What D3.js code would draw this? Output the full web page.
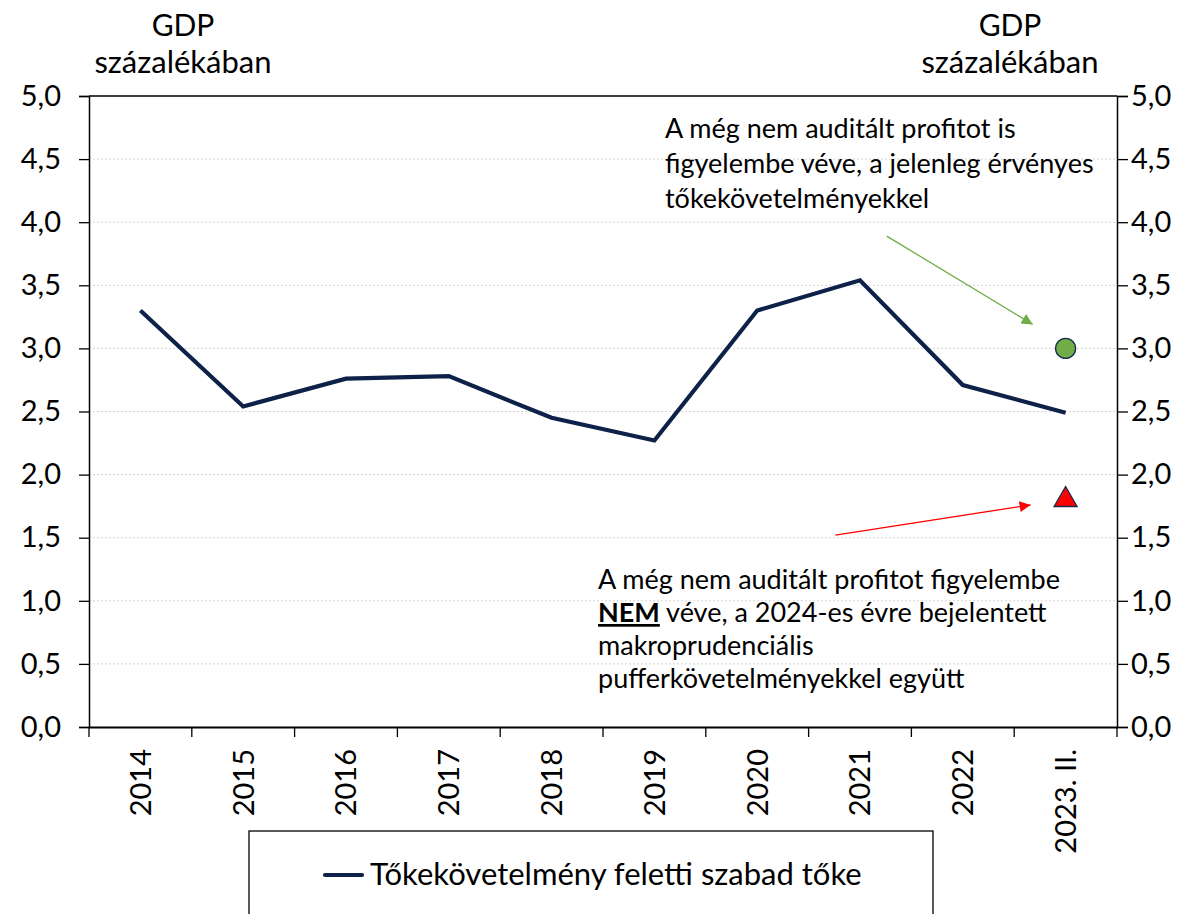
<!DOCTYPE html>
<html>
<head>
<meta charset="utf-8">
<script src="https://cdn.jsdelivr.net/npm/d3@7"></script>
<style>
  body { margin: 0; background: #fff; }
  svg, svg text { font-family: Lato, "Open Sans", sans-serif; }
</style>
</head>
<body>
<div id="chart"></div>
<script>
// Data
const categories = ['2014', '2015', '2016', '2017', '2018', '2019', '2020', '2021', '2022', '2023. II.'];
const freeCapital = [3.30, 2.54, 2.76, 2.78, 2.45, 2.27, 3.30, 3.54, 2.71, 2.49];
const yTicks = [0, 0.5, 1, 1.5, 2, 2.5, 3, 3.5, 4, 4.5, 5];
const withProfit = { cat: '2023. II.', value: 3.0 };
const withoutProfit = { cat: '2023. II.', value: 1.8 };
const seriesName = 'Tőkekövetelmény feletti szabad tőke';
const axisTitle = ['GDP', 'százalékában'];
const noteTop = ['A még nem auditált profitot is', 'figyelembe véve, a jelenleg érvényes', 'tőkekövetelményekkel'];
const noteBottom = ['A még nem auditált profitot figyelembe', 'NEM| véve, a 2024-es évre bejelentett', 'makroprudenciális', 'pufferkövetelményekkel együtt'];

const W = 1195, H = 914;
const margin = {top: 96, right: 78, bottom: 187, left: 89};
const width = W - margin.left - margin.right;
const height = H - margin.top - margin.bottom;

const svg = d3.select('#chart').append('svg')
    .attr('width', W)
    .attr('height', H);

const g = svg.append('g')
    .attr('transform', `translate(${margin.left},${margin.top})`);

// Scales
const x = d3.scaleBand().domain(categories).range([0, width]);
const y = d3.scaleLinear().domain([0, 5]).range([height, 0]);
const cx = c => x(c) + x.bandwidth() / 2;
// position relative to a category centre, in band units
const px = (c, off) => cx(c) + off * x.bandwidth();

// Gridlines
g.append('g')
    .selectAll('line')
    .data(yTicks.filter(d => d > 0 && d < 5))
    .enter().append('line')
    .attr('x1', 0).attr('x2', width)
    .attr('y1', d => y(d)).attr('y2', d => y(d))
    .attr('stroke', '#d4d4d4')
    .attr('stroke-width', 1)
    .attr('stroke-dasharray', '2,2');

// top border
g.append('line')
    .attr('x1', 0).attr('x2', width)
    .attr('y1', y(5)).attr('y2', y(5))
    .attr('stroke', '#000').attr('stroke-width', 1.3);

const fmt = d => d3.format('.1f')(d).replace('.', ',');

// Y axes
const yLeft = g.append('g')
    .call(d3.axisLeft(y).tickValues(yTicks).tickFormat(fmt).tickSize(10).tickPadding(18));
const yRight = g.append('g')
    .attr('transform', `translate(${width},0)`)
    .call(d3.axisRight(y).tickValues(yTicks).tickFormat(fmt).tickSize(11).tickPadding(3));

[yLeft, yRight].forEach(a => {
    a.attr('font-family', null);
    a.select('.domain').attr('stroke', '#000').attr('stroke-width', 1.5);
    a.selectAll('.tick line').attr('stroke', '#000').attr('stroke-width', 1.3);
    a.selectAll('.tick text').style('font-size', '29px').attr('fill', '#000');
});

// X axis
const xAxis = g.append('g')
    .attr('transform', `translate(0,${height})`)
    .call(d3.axisBottom(x).tickSize(0).tickFormat(d => d));
xAxis.attr('font-family', null);
xAxis.select('.domain').attr('stroke', '#000').attr('stroke-width', 1.8);
xAxis.selectAll('.tick text')
    .style('font-size', '29px')
    .attr('fill', '#000')
    .attr('transform', 'rotate(-90)')
    .attr('text-anchor', 'end')
    .attr('x', -22)
    .attr('y', 0)
    .attr('dy', '0.36em');

// x tick marks at band boundaries
g.append('g')
    .selectAll('line')
    .data(d3.range(categories.length + 1))
    .enter().append('line')
    .attr('x1', i => i * x.step()).attr('x2', i => i * x.step())
    .attr('y1', height).attr('y2', height + 10)
    .attr('stroke', '#000').attr('stroke-width', 1.3);

// Line series
const line = d3.line()
    .x((d, i) => cx(categories[i]))
    .y(d => y(d));

g.append('path')
    .datum(freeCapital)
    .attr('fill', 'none')
    .attr('stroke', '#0e2148')
    .attr('stroke-width', 4.2)
    .attr('stroke-linejoin', 'miter')
    .attr('d', line);

// Markers
g.append('circle')
    .attr('cx', cx(withProfit.cat))
    .attr('cy', y(withProfit.value))
    .attr('r', 10)
    .attr('fill', '#70ad47')
    .attr('stroke', '#1a2a4e')
    .attr('stroke-width', 1.3);

g.append('path')
    .attr('transform', `translate(${cx(withoutProfit.cat)},${y(withoutProfit.value)})`)
    .attr('d', d3.symbol().type(d3.symbolTriangle).size(230))
    .attr('fill', '#ff0000')
    .attr('stroke', '#1a2a4e')
    .attr('stroke-width', 1.3);

// Arrow heads
const defs = svg.append('defs');
[['arrGreen', '#70ad47'], ['arrRed', '#ff0000']].forEach(([id, c]) => {
    defs.append('marker')
        .attr('id', id)
        .attr('viewBox', '0 0 10 10')
        .attr('refX', 10).attr('refY', 5)
        .attr('markerWidth', 14).attr('markerHeight', 11)
        .attr('markerUnits', 'userSpaceOnUse')
        .attr('orient', 'auto')
        .append('path')
        .attr('d', 'M0,0 L10,5 L0,10 Z')
        .attr('fill', c);
});

g.append('line')
    .attr('x1', px('2021', 0.26)).attr('y1', y(3.89))
    .attr('x2', px('2023. II.', -0.32)).attr('y2', y(3.19))
    .attr('stroke', '#70ad47').attr('stroke-width', 1.3)
    .attr('marker-end', 'url(#arrGreen)');

g.append('line')
    .attr('x1', px('2021', -0.24)).attr('y1', y(1.52))
    .attr('x2', px('2023. II.', -0.34)).attr('y2', y(1.76))
    .attr('stroke', '#ff0000').attr('stroke-width', 1.3)
    .attr('marker-end', 'url(#arrRed)');

// Notes
const noteT = svg.append('text')
    .attr('x', 665).attr('y', 138)
    .style('font-size', '27px').attr('fill', '#000');
noteTop.forEach((t, i) => {
    noteT.append('tspan').attr('x', 665).attr('dy', i ? 35 : 0).text(t);
});

const noteB = svg.append('text')
    .attr('x', 598).attr('y', 589)
    .style('font-size', '27px').attr('fill', '#000');
noteBottom.forEach((t, i) => {
    const ts = noteB.append('tspan').attr('x', 598).attr('dy', i ? 33 : 0);
    if (t.includes('|')) {
        const [b, rest] = t.split('|');
        ts.append('tspan').style('font-weight', 'bold').style('text-decoration', 'underline').text(b);
        ts.append('tspan').text(rest);
    } else {
        ts.text(t);
    }
});

// Axis titles
[183, 1010].forEach(xc => {
    svg.append('text')
        .attr('x', xc).attr('y', 36)
        .attr('text-anchor', 'middle')
        .style('font-size', '30px')
        .text(axisTitle[0]);
    svg.append('text')
        .attr('x', xc).attr('y', 73)
        .attr('text-anchor', 'middle')
        .style('font-size', '31px')
        .text(axisTitle[1]);
});

// Legend
const legend = svg.append('g');
legend.append('rect')
    .attr('x', 249).attr('y', 831)
    .attr('width', 684).attr('height', 100)
    .attr('fill', '#fff')
    .attr('stroke', '#000').attr('stroke-width', 1.3);
legend.append('line')
    .attr('x1', 325).attr('x2', 362)
    .attr('y1', 875).attr('y2', 875)
    .attr('stroke', '#0e2148').attr('stroke-width', 4.2)
    .attr('stroke-linecap', 'round');
legend.append('text')
    .attr('x', 370).attr('y', 885)
    .style('font-size', '31px')
    .text(seriesName);
</script>
</body>
</html>
